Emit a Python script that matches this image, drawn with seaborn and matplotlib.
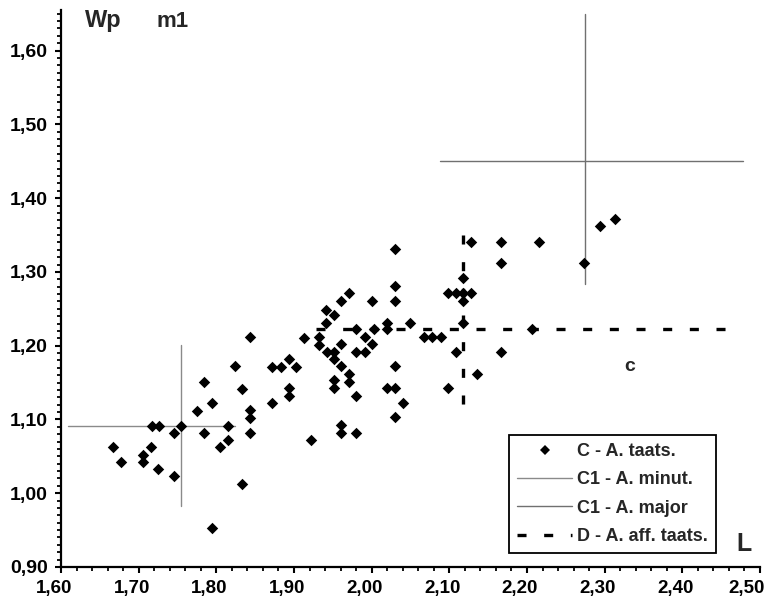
import matplotlib
matplotlib.use("Agg")
import matplotlib.pyplot as plt
import matplotlib.transforms as mtransforms
import seaborn as sns
import pandas as pd
from matplotlib.lines import Line2D
from matplotlib.ticker import MultipleLocator

# ---- data ----
taats_L = [1.843, 1.824, 1.784, 1.833, 1.795, 1.775, 1.843, 1.843, 1.717, 1.726,
           1.755, 1.815, 1.745, 1.784, 1.843, 1.815, 1.805, 1.667, 1.716, 1.706,
           1.677, 1.706, 1.725, 1.745, 1.833,
           1.913, 1.872, 1.883, 1.893, 1.902, 1.893, 1.893, 1.872,
           1.922, 1.961, 1.961, 1.795,
           2.118, 2.030, 1.971, 1.961, 2.001, 2.030, 2.098, 2.108, 2.118, 2.128,
           2.118, 1.941, 1.951, 1.941, 2.020, 2.020, 2.049, 2.118, 1.980, 2.003,
           1.932, 1.991, 2.068, 2.078, 2.089, 1.932, 1.961, 2.001, 1.942, 1.951,
           1.980, 1.991, 2.108, 1.951, 1.961, 2.030, 1.971, 1.971, 1.951, 1.951,
           2.020, 2.030, 2.098, 2.135, 1.980, 2.040, 2.030, 1.980,
           2.128, 2.167, 2.167, 2.030, 2.167, 2.216, 2.274, 2.294, 2.313, 2.206]
taats_Wp = [1.212, 1.172, 1.151, 1.141, 1.122, 1.112, 1.113, 1.102, 1.091, 1.091,
            1.091, 1.091, 1.081, 1.081, 1.082, 1.072, 1.062, 1.062, 1.062, 1.052,
            1.042, 1.042, 1.033, 1.023, 1.013,
            1.211, 1.171, 1.171, 1.182, 1.171, 1.142, 1.132, 1.122,
            1.072, 1.092, 1.082, 0.953,
            1.292, 1.281, 1.271, 1.261, 1.261, 1.261, 1.271, 1.271, 1.271, 1.271,
            1.261, 1.248, 1.242, 1.231, 1.231, 1.222, 1.231, 1.231, 1.222, 1.222,
            1.212, 1.212, 1.212, 1.212, 1.212, 1.201, 1.202, 1.202, 1.192, 1.192,
            1.192, 1.192, 1.192, 1.182, 1.172, 1.172, 1.162, 1.151, 1.153, 1.142,
            1.142, 1.142, 1.142, 1.162, 1.132, 1.122, 1.103, 1.082,
            1.341, 1.341, 1.312, 1.331, 1.192, 1.341, 1.312, 1.362, 1.372, 1.222]

# C1 - A. minut. cross (horizontal and vertical ranges)
minut_h_L = [1.609, 1.824]
minut_h_Wp = [1.091, 1.091]
minut_v_L = [1.755, 1.755]
minut_v_Wp = [0.983, 1.201]

# C1 - A. major cross
major_h_L = [2.088, 2.478]
major_h_Wp = [1.450, 1.450]
major_v_L = [2.275, 2.275]
major_v_Wp = [1.283, 1.650]

# D - A. aff. taats. cross (dashed)
aff_h_L = [1.928, 2.468]
aff_h_Wp = [1.222, 1.222]
aff_v_L = [2.118, 2.118]
aff_v_Wp = [1.350, 1.120]

x_ticks = [1.60, 1.70, 1.80, 1.90, 2.00, 2.10, 2.20, 2.30, 2.40, 2.50]
x_tick_labels = ["1,60", "1,70", "1,80", "1,90", "2,00", "2,10", "2,20", "2,30", "2,40", "2,50"]
y_ticks = [0.90, 1.00, 1.10, 1.20, 1.30, 1.40, 1.50, 1.60]
y_tick_labels = ["0,90", "1,00", "1,10", "1,20", "1,30", "1,40", "1,50", "1,60"]

legend_labels = ["C - A. taats.", "C1 - A. minut.", "C1 - A. major", "D - A. aff. taats."]

# ---- plot ----
sns.set_theme(style="white")
plt.rcParams["font.family"] = ["Liberation Sans", "DejaVu Sans"]

W, H = 766, 607
fig = plt.figure(figsize=(W / 100, H / 100), dpi=100)
ax = fig.add_axes([61 / W, 40 / H, (760 - 61) / W, (567 - 10) / H])

df = pd.DataFrame({"L": taats_L, "Wp": taats_Wp})
sns.scatterplot(data=df, x="L", y="Wp", marker="D", s=34, color="black",
                linewidth=0, ax=ax, legend=False, zorder=3)

minut_col = "#8a8a8a"
major_col = "#707070"
ax.plot(minut_h_L, minut_h_Wp, color=minut_col, lw=1.0, zorder=2)
ax.plot(minut_v_L, minut_v_Wp, color=minut_col, lw=1.0, zorder=2)
ax.plot(major_h_L, major_h_Wp, color=major_col, lw=1.0, zorder=2)
ax.plot(major_v_L, major_v_Wp, color=major_col, lw=1.0, zorder=2)
dash_lw = 2.4
dash_pat = (6.5 / dash_lw, 12.7 / dash_lw)
ax.plot(aff_h_L, aff_h_Wp, color="black", lw=dash_lw, dashes=dash_pat,
        dash_capstyle="butt", zorder=2)
ax.plot(aff_v_L, aff_v_Wp, color="black", lw=dash_lw, dashes=dash_pat,
        dash_capstyle="butt", zorder=2)

ax.set_xlim(1.60, 2.50)
ax.set_ylim(0.90, 1.655)
ax.set_xticks(x_ticks)
ax.set_xticklabels(x_tick_labels, fontsize=13.5, fontweight="bold")
ax.set_yticks(y_ticks)
ax.set_yticklabels(y_tick_labels, fontsize=14, fontweight="bold")
ax.xaxis.set_minor_locator(MultipleLocator(0.02))
ax.yaxis.set_minor_locator(MultipleLocator(0.01))
ax.tick_params(axis="both", which="major", direction="out", length=4.5, width=1.5,
               color="black", labelcolor="black", pad=5, bottom=True, left=True)
ax.tick_params(axis="both", which="minor", direction="out", length=3, width=1.3,
               color="black", bottom=True, left=True)
# x tick labels sit slightly left of their ticks in the reference
xlabels = ax.get_xticklabels()
shift = mtransforms.ScaledTranslation(-7 / 100, 0, fig.dpi_scale_trans)
for lab in xlabels[:-1]:
    lab.set_transform(lab.get_transform() + shift)
last_shift = mtransforms.ScaledTranslation(5 / 100, 0, fig.dpi_scale_trans)
xlabels[-1].set_horizontalalignment("right")
xlabels[-1].set_transform(xlabels[-1].get_transform() + last_shift)
ax.set_xlabel("")
ax.set_ylabel("")
for side in ["top", "right"]:
    ax.spines[side].set_visible(False)
for side in ["left", "bottom"]:
    ax.spines[side].set_color("black")
    ax.spines[side].set_linewidth(1.6)
ax.grid(False)

ax.text(2.332, 1.172, "c", fontsize=14, fontweight="bold", ha="center", va="center")
fig.text(85 / W, (H - 27) / H, "Wp", fontsize=17, fontweight="bold", ha="left", va="baseline")
fig.text(157 / W, (H - 27) / H, "m1", fontsize=16, fontweight="bold", ha="left", va="baseline")
fig.text(736 / W, (H - 551) / H, "L", fontsize=18, fontweight="bold", ha="left", va="baseline")

handles = [
    Line2D([], [], marker="D", color="black", linestyle="none", markersize=5.2, markeredgewidth=0),
    Line2D([], [], color=minut_col, lw=1.0),
    Line2D([], [], color=major_col, lw=1.0),
    Line2D([], [], color="black", lw=dash_lw, dashes=dash_pat, dash_capstyle="butt"),
]
leg = ax.legend(handles, legend_labels, loc="lower right",
                bbox_to_anchor=((716 - 61) / (760 - 61), 14 / 557),
                borderaxespad=0, frameon=True, fancybox=False, framealpha=1,
                edgecolor="black", handlelength=3.0, handletextpad=0.3,
                labelspacing=0.62, borderpad=0.45,
                prop={"weight": "bold", "size": 13, "family": ["Liberation Sans", "DejaVu Sans"]})
leg.get_frame().set_linewidth(1.3)

fig.savefig("out.png", dpi=100, facecolor="white")
